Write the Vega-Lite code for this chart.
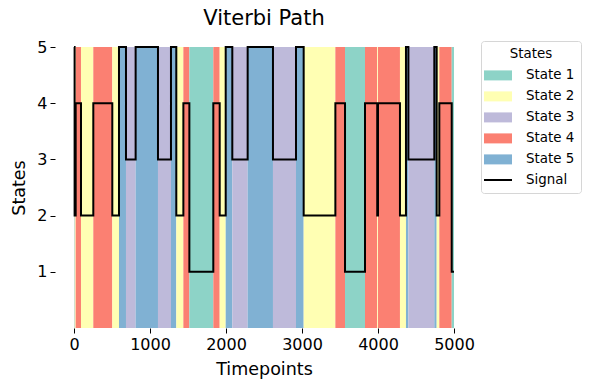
{
  "$schema": "https://vega.github.io/schema/vega-lite/v6.json",
  "width": 418,
  "height": 281,
  "autosize": {"type": "none"},
  "padding": {"left": 55, "top": 47, "right": 116, "bottom": 62},
  "background": "white",
  "title": {
    "text": "Viterbi Path",
    "font": "DejaVu Sans",
    "fontSize": 21,
    "fontWeight": "normal",
    "color": "black",
    "anchor": "middle",
    "frame": "group",
    "offset": 10
  },
  "datasets": {
    "segments": [
      {"start": 0, "end": 8, "state": "State 5"},
      {"start": 8, "end": 22, "state": "State 2"},
      {"start": 22, "end": 92, "state": "State 4"},
      {"start": 92, "end": 254, "state": "State 2"},
      {"start": 254, "end": 504, "state": "State 4"},
      {"start": 504, "end": 592, "state": "State 2"},
      {"start": 592, "end": 684, "state": "State 5"},
      {"start": 684, "end": 811, "state": "State 3"},
      {"start": 811, "end": 1105, "state": "State 5"},
      {"start": 1105, "end": 1276, "state": "State 3"},
      {"start": 1276, "end": 1346, "state": "State 5"},
      {"start": 1346, "end": 1439, "state": "State 2"},
      {"start": 1439, "end": 1518, "state": "State 4"},
      {"start": 1518, "end": 1833, "state": "State 1"},
      {"start": 1833, "end": 1917, "state": "State 4"},
      {"start": 1917, "end": 1996, "state": "State 2"},
      {"start": 1996, "end": 2083, "state": "State 5"},
      {"start": 2083, "end": 2285, "state": "State 3"},
      {"start": 2285, "end": 2618, "state": "State 5"},
      {"start": 2618, "end": 2921, "state": "State 3"},
      {"start": 2921, "end": 3022, "state": "State 5"},
      {"start": 3022, "end": 3439, "state": "State 2"},
      {"start": 3439, "end": 3566, "state": "State 4"},
      {"start": 3566, "end": 3829, "state": "State 1"},
      {"start": 3829, "end": 3990, "state": "State 4"},
      {"start": 3990, "end": 4000, "state": "State 2"},
      {"start": 4000, "end": 4289, "state": "State 4"},
      {"start": 4289, "end": 4368, "state": "State 2"},
      {"start": 4368, "end": 4400, "state": "State 5"},
      {"start": 4400, "end": 4741, "state": "State 3"},
      {"start": 4741, "end": 4772, "state": "State 5"},
      {"start": 4772, "end": 4807, "state": "State 2"},
      {"start": 4807, "end": 4970, "state": "State 4"},
      {"start": 4970, "end": 5000, "state": "State 1"}
    ],
    "signal": [
      {"t": 0, "value": 5},
      {"t": 8, "value": 2},
      {"t": 22, "value": 4},
      {"t": 92, "value": 2},
      {"t": 254, "value": 4},
      {"t": 504, "value": 2},
      {"t": 592, "value": 5},
      {"t": 684, "value": 3},
      {"t": 811, "value": 5},
      {"t": 1105, "value": 3},
      {"t": 1276, "value": 5},
      {"t": 1346, "value": 2},
      {"t": 1439, "value": 4},
      {"t": 1518, "value": 1},
      {"t": 1833, "value": 4},
      {"t": 1917, "value": 2},
      {"t": 1996, "value": 5},
      {"t": 2083, "value": 3},
      {"t": 2285, "value": 5},
      {"t": 2618, "value": 3},
      {"t": 2921, "value": 5},
      {"t": 3022, "value": 2},
      {"t": 3439, "value": 4},
      {"t": 3566, "value": 1},
      {"t": 3829, "value": 4},
      {"t": 3990, "value": 2},
      {"t": 4000, "value": 4},
      {"t": 4289, "value": 2},
      {"t": 4368, "value": 5},
      {"t": 4400, "value": 3},
      {"t": 4741, "value": 5},
      {"t": 4772, "value": 2},
      {"t": 4807, "value": 4},
      {"t": 4970, "value": 1},
      {"t": 5000, "value": 1}
    ]
  },
  "layer": [
    {
      "data": {"name": "segments"},
      "mark": {"type": "rect", "opacity": 1, "strokeWidth": 0},
      "encoding": {
        "x": {
          "field": "start",
          "type": "quantitative",
          "scale": {"domain": [-250, 5250], "nice": false, "zero": false},
          "axis": {
            "title": "Timepoints",
            "values": [0, 1000, 2000, 3000, 4000, 5000],
            "format": "d"
          }
        },
        "x2": {"field": "end"},
        "color": {
          "field": "state",
          "type": "nominal",
          "scale": {
            "domain": ["State 1", "State 2", "State 3", "State 4", "State 5", "Signal"],
            "range": ["#8dd3c7", "#ffffb3", "#bebada", "#fb8072", "#80b1d3", "transparent"]
          },
          "legend": {
            "title": "States",
            "orient": "none",
            "legendX": 426,
            "legendY": -6,
            "symbolType": "M-1.4,-0.5H1.4V0.5H-1.4Z",
            "symbolSize": 400,
            "symbolOpacity": 1,
            "labelOffset": 17,
            "rowPadding": 3,
            "strokeColor": "#d6d6d6",
            "fillColor": "white",
            "padding": 6,
            "cornerRadius": 3
          }
        }
      }
    },
    {
      "data": {"name": "signal"},
      "mark": {"type": "line", "interpolate": "step-after", "strokeWidth": 2},
      "encoding": {
        "x": {
          "field": "t",
          "type": "quantitative",
          "scale": {"domain": [-250, 5250], "nice": false, "zero": false},
          "axis": {
            "title": "Timepoints",
            "values": [0, 1000, 2000, 3000, 4000, 5000],
            "format": "d"
          }
        },
        "y": {
          "field": "value",
          "type": "quantitative",
          "scale": {"domain": [0, 5], "nice": false},
          "axis": {"title": "States", "values": [1, 2, 3, 4, 5], "format": "d"}
        },
        "stroke": {
          "datum": "Signal",
          "type": "nominal",
          "scale": {"domain": ["Signal"], "range": ["black"]},
          "legend": {
            "title": null,
            "orient": "none",
            "legendX": 432,
            "legendY": 122,
            "symbolType": "M-1.4,0H1.4",
            "symbolSize": 400,
            "symbolStrokeWidth": 2,
            "symbolOpacity": 1,
            "labelExpr": "''",
            "padding": 0,
            "strokeColor": null,
            "fillColor": null
          }
        }
      }
    }
  ],
  "config": {
    "view": {"stroke": null},
    "font": "DejaVu Sans",
    "axis": {
      "domain": false,
      "grid": false,
      "ticks": true,
      "tickColor": "black",
      "tickSize": 5,
      "tickWidth": 1,
      "labelFont": "DejaVu Sans",
      "labelFontSize": 16,
      "labelColor": "black",
      "labelPadding": 3,
      "titleFont": "DejaVu Sans",
      "titleFontSize": 17.5,
      "titleFontWeight": "normal",
      "titleColor": "black"
    },
    "axisX": {"titlePadding": 8},
    "axisY": {"titlePadding": 8},
    "legend": {
      "titleFont": "DejaVu Sans",
      "titleFontSize": 13.4,
      "titleFontWeight": "normal",
      "titleColor": "black",
      "titleAnchor": "middle",
      "titlePadding": 4,
      "labelFont": "DejaVu Sans",
      "labelFontSize": 13.4,
      "labelColor": "black"
    }
  }
}
